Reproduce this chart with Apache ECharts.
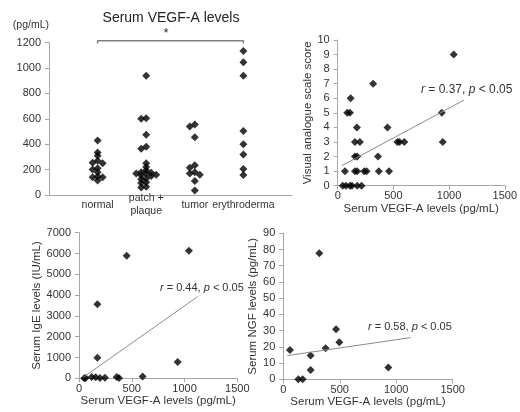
<!DOCTYPE html>
<html><head><meta charset="utf-8">
<script src="https://cdn.jsdelivr.net/npm/echarts@6/dist/echarts.min.js"></script>
<style>html,body{margin:0;padding:0;background:#fff}#c{width:520px;height:412px}</style>
</head><body><div id="c"></div>
<script>
// ---- Panel 1: Serum VEGF-A levels by group ----
const categories = ['normal', 'patch +\nplaque', 'tumor', 'erythroderma'];
const vegfNormal = [430, 335, 310, 270, 255, 250, 210, 200, 180, 145, 140, 140, 115];
const vegfPatch = [940, 605, 600, 475, 380, 365, 250, 220, 195, 180, 175, 170, 170, 160, 155, 150, 130, 125, 100, 95, 65, 60];
const vegfTumor = [555, 540, 455, 235, 215, 180, 170, 160, 110, 35];
const vegfEry = [1135, 1045, 940, 505, 400, 320, 205, 158];
const bracketX = [1, 1, 4, 4];
const bracketY = [1193, 1215, 1215, 1193];

// ---- Panel 2: VAS vs VEGF-A ----
const vasVegf  = [1042, 318, 116, 86, 110, 934, 172, 447, 155, 199, 536, 555, 598, 943, 155, 175, 362, 65, 155, 175, 238, 259, 369, 461, 45, 74, 110, 128, 175, 214];
const vasScore = [9, 7, 6, 5, 5, 5, 4, 4, 3, 3, 3, 3, 3, 3, 2, 2, 2, 1, 1, 1, 1, 1, 1, 1, 0, 0, 0, 0, 0, 0];
const vasTrendX = [36, 1135];
const vasTrendY = [1.37, 5.88];

// ---- Panel 3: IgE vs VEGF-A ----
const igeVegf = [1042, 452, 174, 174, 935, 50, 62, 120, 158, 199, 246, 357, 379, 603];
const igeVals = [6130, 5890, 3555, 990, 780, 0, 20, 60, 50, 20, 30, 60, 10, 90];
const igeTrendX = [41, 1125];
const igeTrendY = [50, 3930];

// ---- Panel 4: NGF vs VEGF-A ----
const ngfVegf = [319, 59, 242, 242, 133, 171, 375, 467, 496, 930];
const ngfVals = [77.7, 18.1, 14.6, 5.8, 0, 0, 19.1, 30.8, 22.8, 7.2];
const ngfTrendX = [35, 1128];
const ngfTrendY = [14.6, 25.7];

const FONT = 'Liberation Sans, Arial, sans-serif';
const AX = '#a6a6a6';
const TXT = '#333';

function pairs(xs, ys) { return xs.map((x, i) => [x, ys[i]]); }
const plain = v => String(v);

// beeswarm-style horizontal spread derived from the values
function swarm(values, center) {
  const pxPerY = 152.3 / 1200, step = 5 / 48.6, thr = 3;
  const order = values.map((v, i) => i).sort((a, b) => values[b] - values[a]);
  const placed = [];
  const out = [];
  order.forEach(i => {
    const yp = values[i] * pxPerY;
    const cands = [0, -1, 1, -2, 2, -3, 3];
    let k = 0;
    for (const c of cands) {
      const hit = placed.some(p => p.k === c && Math.abs(p.y - yp) < thr);
      if (!hit) { k = c; break; }
    }
    placed.push({ k, y: yp });
    out.push([center + k * step, values[i]]);
  });
  return out;
}

const scatterStyle = { symbol: 'diamond', symbolSize: 8, itemStyle: { color: '#000' } };
const axisLine = { show: true, lineStyle: { color: AX, width: 1 } };
const axisTick = { show: true, length: 4, lineStyle: { color: AX } };
const lbl = { color: TXT, fontSize: 11, fontFamily: FONT, formatter: plain };
const nameStyle = { color: TXT, fontSize: 11.5, fontFamily: FONT };

function sxAxis(grid) {
  return { type: 'value', gridIndex: grid, min: 0, max: 1500, interval: 500,
    axisLine, axisTick: { show: true, length: 4, inside: false, lineStyle: { color: AX } },
    axisLabel: Object.assign({ margin: 5 }, lbl), splitLine: { show: false },
    name: 'Serum VEGF-A levels (pg/mL)', nameLocation: 'middle', nameGap: 17, nameTextStyle: nameStyle };
}

function statText(x, y, txt, size) {
  return { type: 'text', x, y, style: { text: txt, fill: TXT, fontSize: size, fontFamily: FONT,
    align: 'left', verticalAlign: 'middle', textAlign: 'left', textVerticalAlign: 'middle',
    rich: { i: { fontStyle: 'italic', fontSize: size, fontFamily: FONT, fill: TXT } } } };
}

const chart = echarts.init(document.getElementById('c'), null, { renderer: 'canvas' });
chart.setOption({
  animation: false,
  backgroundColor: '#fff',
  grid: [
    { left: 49, top: 42.7, width: 243, height: 152.3 },
    { left: 337.7, top: 40, width: 168, height: 145.7 },
    { left: 79, top: 232.7, width: 158.3, height: 145.6 },
    { left: 283.3, top: 233.3, width: 169.4, height: 146 }
  ],
  xAxis: [
    { type: 'value', gridIndex: 0, min: 0, max: 5, interval: 1, axisLine, axisTick: { show: false },
      splitLine: { show: false },
      axisLabel: { color: TXT, fontSize: 10.5, fontFamily: FONT, lineHeight: 13, margin: 10, verticalAlign: 'middle',
        formatter: v => categories[v - 1] || '' } },
    sxAxis(1), sxAxis(2), sxAxis(3)
  ],
  yAxis: [
    { type: 'value', gridIndex: 0, min: 0, max: 1200, interval: 200, axisLine, axisTick,
      axisLabel: Object.assign({ margin: 8 }, lbl), splitLine: { show: false },
      name: '(pg/mL)', nameLocation: 'end', nameGap: 12,
      nameTextStyle: { color: TXT, fontSize: 10.5, fontFamily: FONT, align: 'right' } },
    { type: 'value', gridIndex: 1, min: 0, max: 10, interval: 1, axisLine, axisTick,
      axisLabel: Object.assign({ margin: 8 }, lbl), splitLine: { show: false },
      name: 'Visual analogue scale score', nameLocation: 'middle', nameGap: 24, nameTextStyle: nameStyle },
    { type: 'value', gridIndex: 2, min: 0, max: 7000, interval: 1000, axisLine, axisTick,
      axisLabel: Object.assign({ margin: 8 }, lbl), splitLine: { show: false },
      name: 'Serum IgE levels (IU/mL)', nameLocation: 'middle', nameGap: 33, nameTextStyle: nameStyle },
    { type: 'value', gridIndex: 3, min: 0, max: 90, interval: 10, axisLine, axisTick,
      axisLabel: Object.assign({ margin: 8 }, lbl), splitLine: { show: false },
      name: 'Serum NGF levels (pg/mL)', nameLocation: 'middle', nameGap: 24, nameTextStyle: nameStyle }
  ],
  series: [
    Object.assign({ type: 'scatter', xAxisIndex: 0, yAxisIndex: 0, data: swarm(vegfNormal, 1) }, scatterStyle),
    Object.assign({ type: 'scatter', xAxisIndex: 0, yAxisIndex: 0, data: swarm(vegfPatch, 2) }, scatterStyle),
    Object.assign({ type: 'scatter', xAxisIndex: 0, yAxisIndex: 0, data: swarm(vegfTumor, 3) }, scatterStyle),
    Object.assign({ type: 'scatter', xAxisIndex: 0, yAxisIndex: 0, data: swarm(vegfEry, 4) }, scatterStyle),
    { type: 'line', xAxisIndex: 0, yAxisIndex: 0, data: pairs(bracketX, bracketY), clip: false,
      symbol: 'none', lineStyle: { color: '#808080', width: 1.5 }, z: 1 },
    { type: 'line', xAxisIndex: 1, yAxisIndex: 1, data: pairs(vasTrendX, vasTrendY), symbol: 'none',
      lineStyle: { color: '#8c8c8c', width: 1 } },
    Object.assign({ type: 'scatter', xAxisIndex: 1, yAxisIndex: 1, data: pairs(vasVegf, vasScore) }, scatterStyle),
    { type: 'line', xAxisIndex: 2, yAxisIndex: 2, data: pairs(igeTrendX, igeTrendY), symbol: 'none',
      lineStyle: { color: '#8c8c8c', width: 1 } },
    Object.assign({ type: 'scatter', xAxisIndex: 2, yAxisIndex: 2, data: pairs(igeVegf, igeVals) }, scatterStyle),
    { type: 'line', xAxisIndex: 3, yAxisIndex: 3, data: pairs(ngfTrendX, ngfTrendY), symbol: 'none',
      lineStyle: { color: '#8c8c8c', width: 1 } },
    Object.assign({ type: 'scatter', xAxisIndex: 3, yAxisIndex: 3, data: pairs(ngfVegf, ngfVals) }, scatterStyle)
  ],
  graphic: [
    { type: 'text', x: 171, y: 18, style: { text: 'Serum VEGF-A levels', fill: '#222', fontSize: 14, fontFamily: FONT,
      align: 'center', verticalAlign: 'middle', textAlign: 'center', textVerticalAlign: 'middle' } },
    { type: 'text', x: 166, y: 33, style: { text: '*', fill: '#333', fontSize: 13, fontFamily: FONT,
      align: 'center', verticalAlign: 'middle', textAlign: 'center', textVerticalAlign: 'middle' } },
    statText(421, 90, '{i|r} = 0.37, {i|p} < 0.05', 12),
    statText(160, 288, '{i|r} = 0.44, {i|p} < 0.05', 11),
    statText(368, 327, '{i|r} = 0.58, {i|p} < 0.05', 11)
  ]
});
</script>
</body></html>
